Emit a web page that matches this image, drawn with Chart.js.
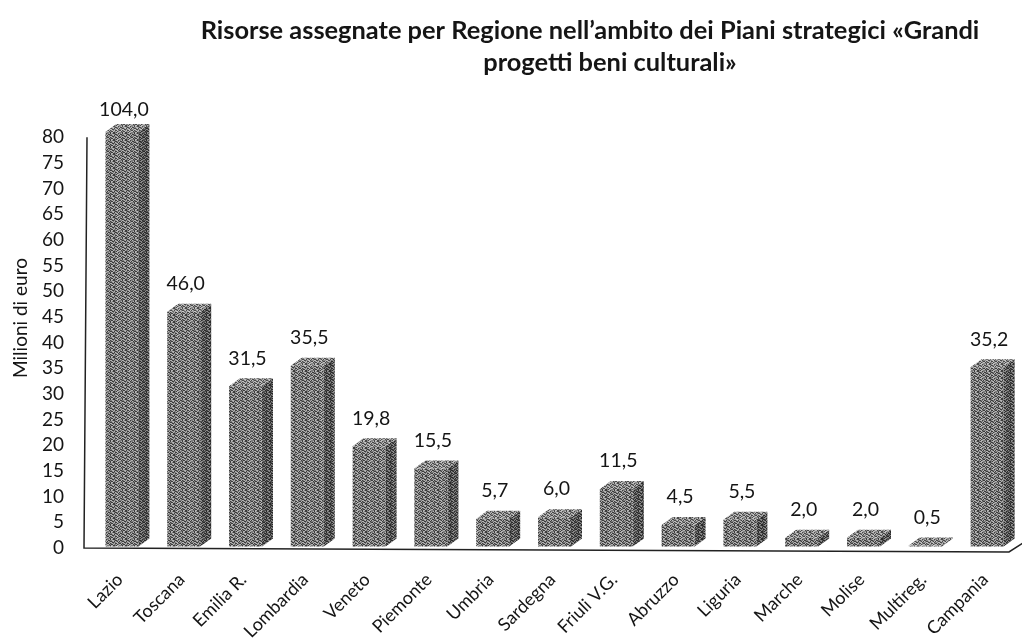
<!DOCTYPE html>
<html>
<head>
<meta charset="utf-8">
<title>Risorse assegnate per Regione</title>
<script src="https://cdn.jsdelivr.net/npm/chart.js@4"></script>
<style>
    html, body { margin: 0; padding: 0; background: #fff; }
    #wrap { position: relative; width: 1022px; height: 644px; }
</style>
</head>
<body>
<div id="wrap"><canvas id="regionChart"></canvas></div>
<script>
const regions = ['Lazio', 'Toscana', 'Emilia R.', 'Lombardia', 'Veneto', 'Piemonte', 'Umbria', 'Sardegna', 'Friuli V.G.', 'Abruzzo', 'Liguria', 'Marche', 'Molise', 'Multireg.', 'Campania'];
const milioni = [104.0, 46.0, 31.5, 35.5, 19.8, 15.5, 5.7, 6.0, 11.5, 4.5, 5.5, 2.0, 2.0, 0.5, 35.2];
const yTicks = [0, 5, 10, 15, 20, 25, 30, 35, 40, 45, 50, 55, 60, 65, 70, 75, 80];
const titleLines = ['Risorse assegnate per Regione nell\u2019ambito dei Piani strategici \u00abGrandi', 'progetti beni culturali\u00bb'];
const titleCenters = [590, 610];
const yTitle = 'Milioni di euro';

const FONT = 'Lato, Carlito, sans-serif';
const INK = '#151515';
const DEPTH_X = 11;
const DEPTH_Y = 8;

// scanned halftone look, same tile with different inks
const TILE = [
    '120210012201',
    '001122100112',
    '210012021020',
    '112200112201',
    '020121200210',
    '201002112012',
    '110220010221',
];

function hatch(inks) {
    const tile = document.createElement('canvas');
    tile.width = TILE[0].length;
    tile.height = TILE.length;
    const c = tile.getContext('2d');
    TILE.forEach((row, y) => {
        [...row].forEach((level, x) => {
            c.fillStyle = inks[level];
            c.fillRect(x, y, 1, 1);
        });
    });
    return c.createPattern(tile, 'repeat');
}

const frontFill = hatch(['#3c3c3c', '#7c7c7c', '#b4b4b4']);
const sideFill = hatch(['#2a2a2a', '#505050', '#8a8a8a']);
const topFill = hatch(['#4a4a4a', '#8a8a8a', '#c0c0c0']);

const bar3d = {
    id: 'bar3d',
    afterDatasetsDraw(chart) {
        const { ctx, chartArea } = chart;
        chart.getDatasetMeta(0).data.forEach((bar) => {
            const half = bar.width / 2;
            const l = bar.x - half;
            const r = bar.x + half;
            const t = Math.max(bar.y, chartArea.top);
            const b = bar.base;
            ctx.fillStyle = sideFill;
            ctx.beginPath();
            ctx.moveTo(r, t);
            ctx.lineTo(r + DEPTH_X, t - DEPTH_Y);
            ctx.lineTo(r + DEPTH_X, b - DEPTH_Y);
            ctx.lineTo(r, b);
            ctx.closePath();
            ctx.fill();
            ctx.fillStyle = topFill;
            ctx.beginPath();
            ctx.moveTo(l, t);
            ctx.lineTo(l + DEPTH_X, t - DEPTH_Y);
            ctx.lineTo(r + DEPTH_X, t - DEPTH_Y);
            ctx.lineTo(r, t);
            ctx.closePath();
            ctx.fill();
        });
    },
};

const axisLines = {
    id: 'axisLines',
    beforeDatasetsDraw(chart) {
        const { ctx, chartArea, scales } = chart;
        const y0 = scales.y.getPixelForValue(0);
        const yTop = scales.y.getPixelForValue(80);
        const left = chartArea.left - 7;
        const right = chartArea.right - 9;
        ctx.save();
        ctx.strokeStyle = '#222';
        ctx.lineWidth = 1.5;
        ctx.beginPath();
        ctx.moveTo(left + 3, yTop);
        ctx.lineTo(left, y0);
        ctx.lineTo(right, y0 + 4);
        ctx.lineTo(right + 14, y0 - 5);
        ctx.stroke();
        ctx.restore();
    },
};

const textLayer = {
    id: 'textLayer',
    afterDraw(chart) {
        const { ctx, chartArea } = chart;
        ctx.save();
        ctx.fillStyle = INK;
        ctx.textAlign = 'center';
        ctx.textBaseline = 'middle';
        ctx.font = '19.5px ' + FONT;
        chart.getDatasetMeta(0).data.forEach((bar, i) => {
            const text = milioni[i].toFixed(1).replace('.', ',');
            const y = bar.y < chartArea.top ? chartArea.top - 22 : bar.y - 28;
            ctx.fillText(text, bar.x + 2, y);
        });
        ctx.font = 'bold 25.4px ' + FONT;
        titleLines.forEach((line, i) => {
            ctx.fillText(line, titleCenters[i], 31 + i * 32);
        });
        ctx.translate(21, 318);
        ctx.rotate(-Math.PI / 2);
        ctx.font = '19px ' + FONT;
        ctx.fillText(yTitle, 0, 0);
        ctx.restore();
    },
};

new Chart(document.getElementById('regionChart').getContext('2d'), {
    type: 'bar',
    data: {
        labels: regions,
        datasets: [{
            label: yTitle,
            data: milioni,
            base: 0.3,
            backgroundColor: frontFill,
            borderWidth: 0,
            barPercentage: 0.534,
            categoryPercentage: 1,
        }],
    },
    plugins: [axisLines, bar3d, textLayer],
    options: {
        responsive: true,
        maintainAspectRatio: false,
        animation: false,
        layout: { padding: { top: 132, right: 4, left: 0, bottom: 0 } },
        plugins: {
            legend: { display: false },
            tooltip: { enabled: false },
        },
        scales: {
            y: {
                min: 0,
                max: 81,
                border: { display: false },
                grid: { display: false },
                afterBuildTicks: (s) => { s.ticks = yTicks.map((value) => ({ value })); },
                afterFit: (s) => { s.width = 91; },
                ticks: {
                    padding: 19,
                    color: INK,
                    font: { family: FONT, size: 19 },
                },
            },
            x: {
                border: { display: false },
                grid: { display: false },
                afterFit: (s) => { s.height = 96; },
                ticks: {
                    autoSkip: false,
                    minRotation: 45,
                    maxRotation: 45,
                    padding: 13,
                    labelOffset: -2,
                    color: INK,
                    font: { family: FONT, size: 18 },
                },
            },
        },
    },
});
</script>
</body>
</html>
